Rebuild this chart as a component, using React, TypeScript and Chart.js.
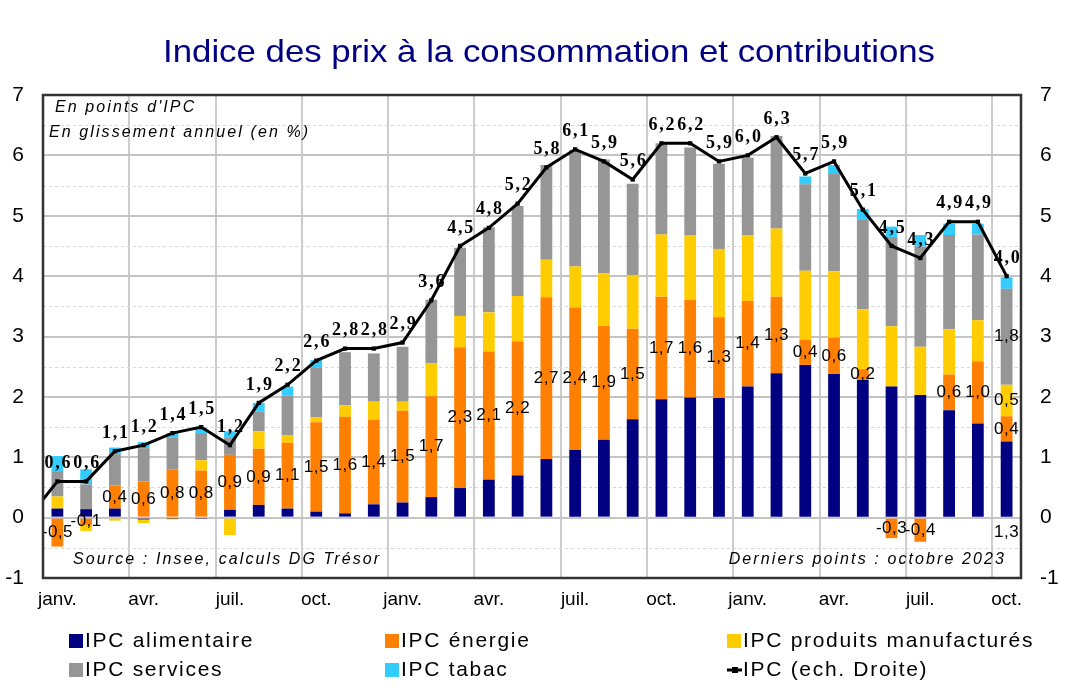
import React, { useEffect, useRef } from 'react';
import { Chart, registerables } from 'chart.js';

Chart.register(...registerables);

// Months: déc. 2020 (only used so the line enters from the left edge) then janv. 2021 .. oct. 2023
const months = [
  'déc.',
  'janv.', 'févr.', 'mars', 'avr.', 'mai', 'juin', 'juil.', 'août', 'sept.', 'oct.', 'nov.', 'déc.',
  'janv.', 'févr.', 'mars', 'avr.', 'mai', 'juin', 'juil.', 'août', 'sept.', 'oct.', 'nov.', 'déc.',
  'janv.', 'févr.', 'mars', 'avr.', 'mai', 'juin', 'juil.', 'août', 'sept.', 'oct.',
];

// Contributions (points d'IPC), janv. 2021 .. oct. 2023
const alimentaire = [
  0.15, 0.14, 0.15, -0.03, -0.01, -0.01, 0.13, 0.21, 0.15, 0.10, 0.07, 0.22,
  0.25, 0.34, 0.49, 0.63, 0.70, 0.97, 1.12, 1.29, 1.63, 1.96, 1.99, 1.98,
  2.17, 2.39, 2.53, 2.38, 2.28, 2.17, 2.03, 1.78, 1.56, 1.26,
];
const energie = [
  -0.48, -0.12, 0.38, 0.60, 0.80, 0.78, 0.91, 0.93, 1.09, 1.48, 1.60, 1.40,
  1.52, 1.67, 2.33, 2.12, 2.22, 2.68, 2.36, 1.89, 1.50, 1.70, 1.62, 1.34,
  1.42, 1.27, 0.42, 0.60, 0.18, -0.34, -0.40, 0.59, 1.03, 0.42,
];
const manufactures = [
  0.20, -0.10, -0.05, -0.06, -0.02, 0.17, -0.29, 0.29, 0.12, 0.08, 0.19, 0.30,
  0.15, 0.55, 0.52, 0.65, 0.75, 0.62, 0.68, 0.87, 0.89, 1.03, 1.07, 1.13,
  1.09, 1.13, 1.14, 1.10, 0.99, 1.00, 0.80, 0.75, 0.68, 0.52,
];
const services = [
  0.42, 0.41, 0.52, 0.55, 0.52, 0.45, 0.28, 0.33, 0.66, 0.83, 0.88, 0.80,
  0.91, 1.05, 1.13, 1.41, 1.49, 1.57, 1.93, 1.88, 1.51, 1.51, 1.45, 1.41,
  1.28, 1.53, 1.43, 1.61, 1.49, 1.48, 1.66, 1.56, 1.42, 1.59,
];
const tabac = [
  0.25, 0.25, 0.11, 0.10, 0.08, 0.08, 0.11, 0.14, 0.15, 0.12, 0.00, 0.00,
  0.00, 0.00, 0.00, 0.00, 0.00, 0.00, 0.00, 0.00, 0.00, 0.00, 0.00, 0.00,
  0.00, 0.00, 0.13, 0.15, 0.17, 0.17, 0.19, 0.19, 0.18, 0.19,
];
// IPC glissement annuel (%), déc. 2020 .. oct. 2023
const ipc = [
  0.0,
  0.6, 0.6, 1.1, 1.2, 1.4, 1.5, 1.2, 1.9, 2.2, 2.6, 2.8, 2.8,
  2.9, 3.6, 4.5, 4.8, 5.2, 5.8, 6.1, 5.9, 5.6, 6.2, 6.2, 5.9,
  6.0, 6.3, 5.7, 5.9, 5.1, 4.5, 4.3, 4.9, 4.9, 4.0,
];
// Labels printed on the last month's bar (alimentaire, énergie, manufacturés, services)
const lastMonthLabels = ['1,3', '0,4', '0,5', '1,8'];

const seriesNames = [
  'IPC alimentaire', 'IPC énergie', 'IPC produits manufacturés',
  'IPC services', 'IPC tabac', 'IPC (ech. Droite)',
];
const seriesColors = ['#000080', '#FF8000', '#FFCC00', '#969696', '#33CCFF', '#000000'];

const titleText = 'Indice des prix à la consommation et contributions';
const noteLines = ["En points d'IPC", 'En glissement annuel (en %)'];
const sourceText = 'Source : Insee, calculs DG Trésor';
const lastPointText = 'Derniers points : octobre 2023';

const fmt = (v: number) => v.toFixed(1).replace('.', ',');
const pad = (arr: number[]) => [null, ...arr];

export default function App() {
  const ref = useRef<HTMLCanvasElement | null>(null);

  useEffect(() => {
    document.body.style.margin = '0';
    const canvas = ref.current;
    if (!canvas) return;

    const decorPlugin = {
      id: 'decor',
      beforeDatasetsDraw(chart: any) {
        const { ctx, chartArea } = chart;
        const y = chart.scales.y;
        ctx.save();
        ctx.strokeStyle = '#d6d6d6';
        ctx.lineWidth = 1;
        ctx.setLineDash([3, 3]);
        for (let v = -0.5; v < 7; v += 1) {
          const py = Math.round(y.getPixelForValue(v)) + 0.5;
          ctx.beginPath();
          ctx.moveTo(chartArea.left, py);
          ctx.lineTo(chartArea.right, py);
          ctx.stroke();
        }
        ctx.restore();
      },
      afterDatasetsDraw(chart: any) {
        const { ctx, chartArea } = chart;
        const yScale = chart.scales.y;
        ctx.save();
        ctx.fillStyle = '#000';
        ctx.textAlign = 'center';
        ctx.textBaseline = 'middle';
        ctx.font = '17px "Liberation Sans", Arial, sans-serif';
        (ctx as any).letterSpacing = '0.5px';
        const n = energie.length;
        const eMeta = chart.getDatasetMeta(1);
        eMeta.data.forEach((bar: any, i: number) => {
          const di = i - 1;
          if (di < 0 || energie[di] == null) return;
          const txt = di === n - 1 ? lastMonthLabels[1] : fmt(energie[di]);
          ctx.fillText(txt, bar.x, (bar.y + bar.base) / 2);
        });
        const lastIdx = n;
        const mBar = chart.getDatasetMeta(2).data[lastIdx];
        const sBar = chart.getDatasetMeta(3).data[lastIdx];
        const aBar = chart.getDatasetMeta(0).data[lastIdx];
        if (mBar) ctx.fillText(lastMonthLabels[2], mBar.x, (mBar.y + mBar.base) / 2);
        if (sBar) ctx.fillText(lastMonthLabels[3], sBar.x, (sBar.y + sBar.base) / 2);
        if (aBar) ctx.fillText(lastMonthLabels[0], aBar.x, yScale.getPixelForValue(0) + 15);
        ctx.font = 'bold 18px "Liberation Serif", "Times New Roman", serif';
        (ctx as any).letterSpacing = '1.8px';
        const lMeta = chart.getDatasetMeta(5);
        lMeta.data.forEach((pt: any, i: number) => {
          if (i === 0) return;
          ctx.fillText(fmt(ipc[i]), pt.x + 1, pt.y - 18);
        });
        (ctx as any).letterSpacing = '0px';
        ctx.strokeStyle = '#333';
        ctx.lineWidth = 2.5;
        ctx.strokeRect(chartArea.left, chartArea.top, chartArea.right - chartArea.left, chartArea.bottom - chartArea.top);
        ctx.restore();
      },
      afterDraw(chart: any) {
        const { ctx } = chart;
        ctx.save();
        ctx.fillStyle = '#000080';
        ctx.font = '32px "Liberation Sans", Arial, sans-serif';
        ctx.textBaseline = 'alphabetic';
        ctx.textAlign = 'left';
        const tw = ctx.measureText(titleText).width;
        const target = 772;
        ctx.translate(163, 62);
        ctx.scale(target / tw, 1);
        ctx.fillText(titleText, 0, 0);
        ctx.restore();

        ctx.save();
        ctx.fillStyle = '#000';
        ctx.font = 'italic 16px "Liberation Sans", Arial, sans-serif';
        (ctx as any).letterSpacing = '2.1px';
        ctx.textBaseline = 'middle';
        ctx.textAlign = 'left';
        ctx.fillText(noteLines[0], 55, 108);
        ctx.fillText(noteLines[1], 49, 133);
        ctx.fillText(sourceText, 73, 560);
        ctx.textAlign = 'right';
        ctx.fillText(lastPointText, 1006, 560);
        (ctx as any).letterSpacing = '0px';

        const cols = [69, 385, 727];
        const rows = [641, 670];
        ctx.font = '21px "Liberation Sans", Arial, sans-serif';
        (ctx as any).letterSpacing = '1.7px';
        ctx.textAlign = 'left';
        chart.data.datasets.forEach((ds: any, i: number) => {
          const cx = cols[i % 3];
          const cy = rows[Math.floor(i / 3)];
          if (ds.type === 'line') {
            ctx.strokeStyle = '#000';
            ctx.lineWidth = 3;
            ctx.beginPath();
            ctx.moveTo(cx, cy);
            ctx.lineTo(cx + 15, cy);
            ctx.stroke();
            ctx.fillStyle = '#000';
            ctx.fillRect(cx + 5, cy - 3, 6, 6);
          } else {
            ctx.fillStyle = ds.backgroundColor;
            ctx.fillRect(cx, cy - 7, 14, 14);
          }
          ctx.fillStyle = '#000';
          ctx.fillText(ds.label, cx + 16, cy);
        });
        (ctx as any).letterSpacing = '0px';
        ctx.restore();
      },
    };

    const barDs = (i: number, data: number[]) => ({
      type: 'bar' as const,
      label: seriesNames[i],
      data: pad(data),
      backgroundColor: seriesColors[i],
      borderWidth: 0,
      yAxisID: 'y',
      order: 1,
      barPercentage: 0.41,
      categoryPercentage: 1,
      stack: 'c',
    });

    const chart = new Chart(canvas, {
      type: 'bar',
      data: {
        labels: months,
        datasets: [
          barDs(0, alimentaire),
          barDs(1, energie),
          barDs(2, manufactures),
          barDs(3, services),
          barDs(4, tabac),
          {
            type: 'line',
            label: seriesNames[5],
            data: ipc,
            borderColor: '#000',
            backgroundColor: '#000',
            borderWidth: 3,
            pointRadius: 3,
            pointStyle: 'rect',
            pointBackgroundColor: '#000',
            pointBorderWidth: 0,
            yAxisID: 'y2',
            order: 0,
            clip: 0,
            tension: 0,
          } as any,
        ],
      },
      options: {
        animation: false,
        responsive: false,
        maintainAspectRatio: false,
        layout: { padding: { top: 95, left: 0, right: 0, bottom: 0 } },
        plugins: {
          legend: { display: false },
          title: { display: false },
          tooltip: { enabled: false },
        },
        scales: {
          x: {
            type: 'category',
            stacked: true,
            min: 1,
            offset: true,
            grid: {
              offset: true,
              drawTicks: false,
              lineWidth: 2,
              color: (c: any) =>
                c.tick && c.tick.value > 1 && (c.tick.value - 1) % 3 === 0 ? '#cccccc' : 'rgba(0,0,0,0)',
            },
            border: { display: false },
            ticks: {
              autoSkip: false,
              maxRotation: 0,
              minRotation: 0,
              padding: 10,
              color: '#000',
              font: { family: '"Liberation Sans", Arial, sans-serif', size: 19 },
              callback: function (this: any, v: any) {
                return (v - 1) % 3 === 0 ? this.getLabelForValue(v) : '';
              },
            },
            afterFit: (s: any) => { s.height = 121; },
          },
          y: {
            type: 'linear',
            position: 'left',
            stacked: true,
            min: -1,
            max: 7,
            ticks: {
              stepSize: 1,
              padding: 19,
              color: '#000',
              font: { family: '"Liberation Sans", Arial, sans-serif', size: 21 },
            },
            grid: { color: '#c4c4c4', lineWidth: 2, drawTicks: false },
            border: { display: false },
            afterFit: (s: any) => { s.width = 43; },
          },
          y2: {
            type: 'linear',
            position: 'right',
            min: -1,
            max: 7,
            ticks: {
              stepSize: 1,
              padding: 19,
              color: '#000',
              font: { family: '"Liberation Sans", Arial, sans-serif', size: 21 },
            },
            grid: { display: false, drawTicks: false },
            border: { display: false },
            afterFit: (s: any) => { s.width = 47; },
          },
        },
      },
      plugins: [decorPlugin],
    });

    return () => chart.destroy();
  }, []);

  return (
    <div style={{ width: 1068, height: 699, background: '#fff' }}>
      <canvas ref={ref} width={1068} height={699} style={{ display: 'block' }} />
    </div>
  );
}
